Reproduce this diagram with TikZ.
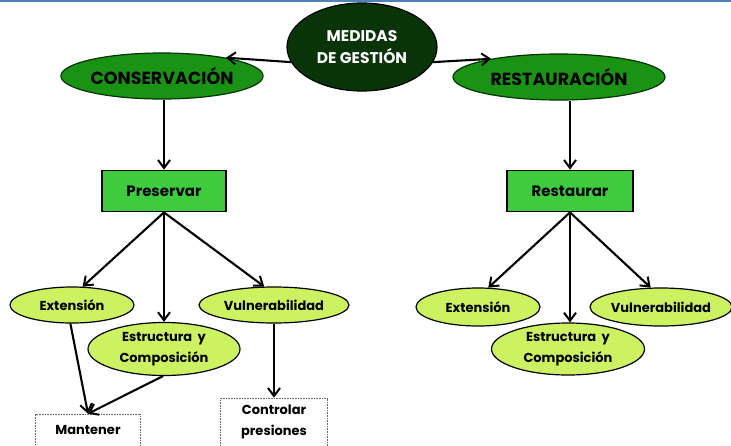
\documentclass[tikz,border=0pt]{standalone}
\usepackage{fontspec}
\setmainfont{Poppins}[BoldFont={Poppins Bold}]
\usetikzlibrary{shapes.geometric,arrows.meta}
\definecolor{darkg}{RGB}{8,52,8}
\definecolor{midg}{RGB}{26,146,20}
\definecolor{rectg}{RGB}{62,204,62}
\definecolor{lightg}{RGB}{204,242,98}
\definecolor{topblue}{RGB}{79,129,189}
\tikzset{
  big/.style={ellipse,draw=black,line width=1.2pt,inner sep=0pt,font=\bfseries\fontsize{17.5}{19}\selectfont},
  topnode/.style={big,fill=darkg,text=white,minimum width=150pt,minimum height=88pt,align=center,font=\bfseries\fontsize{15.5}{22}\selectfont},
  midnode/.style={big,fill=midg,draw=black!80!green,text=black,minimum width=193pt,minimum height=46pt},
  rectnode/.style={rectangle,draw=black,line width=1.8pt,fill=rectg,minimum width=124pt,minimum height=41pt,font=\bfseries\fontsize{15}{17}\selectfont},
  leaf/.style={ellipse,draw=black,line width=1.2pt,fill=lightg,inner sep=0pt,align=center,font=\bfseries\fontsize{13}{21}\selectfont},
  outbox/.style={rectangle,draw=black!60,densely dotted,line width=0.6pt,align=center,font=\bfseries\fontsize{13}{21}\selectfont},
  conn/.style={line width=2.1pt,-{Straight Barb[length=8pt,width=12pt,line width=2pt]}}
}
\begin{document}
\begin{tikzpicture}[x=1pt,y=-1pt]
\useasboundingbox (0,0) rectangle (731,445);
\draw[topblue,line width=2pt] (0,1) -- (731,1);
\node[topnode] (med) at (362,47) {MEDIDAS\\DE GESTIÓN};
\node[midnode] (cons) at (162,76) {CONSERVACIÓN};
\node[midnode,minimum width=212pt] (rest) at (559,77) {RESTAURACIÓN};
\node[rectnode] (pres) at (164,191) {Preservar};
\node[rectnode,minimum width=126pt] (resr) at (570,191) {Restaurar};
% left leaves
\node[leaf,minimum width=124pt,minimum height=36pt] (ext1) at (72,305) {Extensión};
\node[leaf,minimum width=152pt,minimum height=53pt] (est1) at (164,349) {Estructura\ \ y\\Composición};
\node[leaf,minimum width=150pt,minimum height=36pt] (vul1) at (274,305) {Vulnerabilidad};
% right leaves
\node[leaf,minimum width=124pt,minimum height=38pt] (ext2) at (478,307) {Extensión};
\node[leaf,minimum width=153pt,minimum height=52pt] (est2) at (568,349) {Estructura\ \ y\\Composición};
\node[leaf,minimum width=142pt,minimum height=38pt] (vul2) at (661,307) {Vulnerabilidad};
% outputs
\node[outbox,minimum width=105pt,minimum height=32pt] (mant) at (88,430) {Mantener};
\node[outbox,minimum width=107pt,minimum height=48pt] (ctrl) at (274,422) {Controlar\\presiones};
% connectors
\draw[conn] (med.192) -- (cons.16);
\draw[conn] (med.-12) -- (rest.165);
\draw[conn] (cons.south -| pres.north) -- (pres.north);
\draw[conn] (rest.south -| resr.north) -- (resr.north);
\draw[conn] (pres.south) -- (ext1.60);
\draw[conn] (pres.south) -- (est1.north);
\draw[conn] (pres.south) -- (vul1.118);
\draw[conn] (resr.south) -- (ext2.62);
\draw[conn] (resr.south) -- (est2.north -| resr.south);
\draw[conn] (resr.south) -- (vul2.118);
\draw[conn] (ext1.-95) -- (mant.north);
\draw[conn] (est1.-92) -- (mant.north);
\draw[conn] (vul1.south) -- (ctrl.north);
\end{tikzpicture}
\end{document}
